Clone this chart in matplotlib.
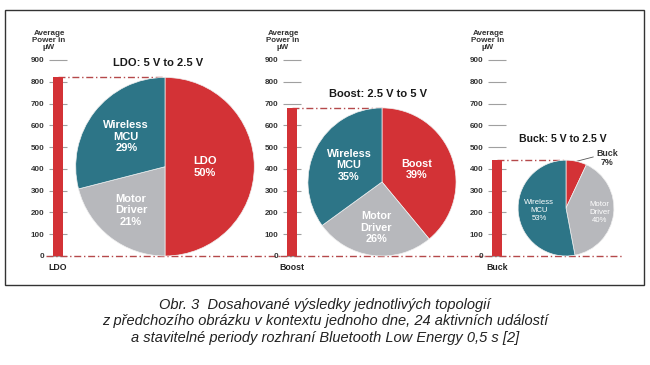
import math
import matplotlib.pyplot as plt
from matplotlib.patches import Rectangle

plt.rcParams['font.family'] = ['Liberation Sans', 'DejaVu Sans']

# Data (average power in uW and shares in %)
topologies = ['LDO', 'Boost', 'Buck']
titles = ['LDO: 5 V to 2.5 V', 'Boost: 2.5 V to 5 V', 'Buck: 5 V to 2.5 V']
totals_uw = [820, 680, 440]
ldo_shares = [50, 21, 29]
boost_shares = [39, 26, 35]
buck_shares = [7, 40, 53]
shares = [ldo_shares, boost_shares, buck_shares]
part_names = ['Motor\nDriver', 'Wireless\nMCU']
y_ticks = list(range(0, 1000, 100))
y_label = 'Average\nPower in\nµW'
caption = ('Obr. 3  Dosahované výsledky jednotlivých topologií\n'
           'z předchozího obrázku v kontextu jednoho dne, 24 aktivních událostí\n'
           'a stavitelné periody rozhraní Bluetooth Low Energy 0,5 s [2]')

# Colours
red = '#d33236'
gray = '#b7b8bc'
teal = '#2d7587'
line_red = '#b5494b'
dash_dot = (0, (5, 2, 1, 2))

# Layout in pixels
W, H = 650, 365
px_per_uw = 196 / 900          # same scale on x and y, so the pies stay round
base_px = 256                  # pixel row of the zero line
# axes left, axes right, bar centre for each panel
panel_px = [(46, 280, 58), (280, 485, 292), (485, 622, 497)]
# distance from bar centre to pie centre
pie_offset_px = [107, 90, 69]
# title placement relative to the pie top / centre
title_gap_px = [14, 14, 21]
title_shift_px = [-7, -4, -3]
title_size = [8, 8, 7.6]
# where each slice label sits, as a fraction of the radius (None = outside)
label_dist = [[0.45, 0.62, 0.55], [0.5, 0.62, 0.5], [None, 0.71, 0.56]]
label_size = [8, 7.8, 5.6]
label_weight = ['bold', 'bold', 'normal']

fig = plt.figure(figsize=(W / 100, H / 100), dpi=100)

# Frame round the chart part
fig.add_artist(Rectangle((5 / W, 1 - 285 / H), 639 / W, 275 / H,
                         transform=fig.transFigure, fill=False,
                         edgecolor='#333333', linewidth=1))

for i in range(3):
    left, right, bar_px = panel_px[i]
    ax = fig.add_axes([left / W, 1 - base_px / H, (right - left) / W, 196 / H])
    ax.patch.set_visible(False)

    total = totals_uw[i]
    r = total / 2
    cx = pie_offset_px[i] / px_per_uw
    bar_w = 10 / px_per_uw

    # short tick dashes behind the bar
    ax.hlines(y_ticks, -0.9 * bar_w, 0.9 * bar_w, color='#a0a0a0',
              linewidth=0.8, zorder=1, clip_on=False)
    # total power bar
    ax.bar(0, total, width=bar_w, color=red, zorder=3)
    # dash-dot guide lines, top of bar to top of pie and along the base
    ax.plot([0, cx], [total, total], color=line_red, linewidth=1,
            linestyle=dash_dot, zorder=2)
    ax.axhline(0, color=line_red, linewidth=1, linestyle=dash_dot,
               zorder=2, clip_on=False)

    # pie with the same height as the bar
    wedges, _ = ax.pie(shares[i], colors=[red, gray, teal], radius=r,
                       center=(cx, r), startangle=90, counterclock=False,
                       frame=True,
                       wedgeprops=dict(linewidth=0.5, edgecolor='#f0f0f0',
                                       zorder=4))

    names = [topologies[i]] + part_names
    for j in range(3):
        d = label_dist[i][j]
        if d is None:
            continue
        mid = math.radians((wedges[j].theta1 + wedges[j].theta2) / 2)
        ax.text(cx + d * r * math.cos(mid), r + d * r * math.sin(mid),
                names[j] + '\n' + str(shares[i][j]) + '%',
                ha='center', va='center', color='white',
                fontsize=label_size[i], fontweight=label_weight[i],
                linespacing=1.2, zorder=5)

    if i == 2:
        # small buck slice gets an outside label with a leader line
        a = math.radians((wedges[0].theta1 + wedges[0].theta2) / 2)
        ax.annotate(topologies[i] + '\n' + str(shares[i][0]) + '%',
                    xy=(cx + r * math.cos(a), r + r * math.sin(a)),
                    xytext=(cx + 41 / px_per_uw, r + 50 / px_per_uw),
                    ha='center', va='center',
                    fontsize=6.4, fontweight='bold', color='#333333',
                    linespacing=1.1, annotation_clip=False,
                    arrowprops=dict(arrowstyle='-', color='#555555',
                                    linewidth=0.6, shrinkA=0, shrinkB=0,
                                    relpos=(0, 0.6)))

    # panel title above the pie
    ax.text(cx + title_shift_px[i] / px_per_uw,
            total + title_gap_px[i] / px_per_uw, titles[i],
            ha='center', va='center', fontsize=title_size[i],
            fontweight='bold', color='#1a1a1a', clip_on=False)
    # axis caption above the ticks
    ax.text(-9 / px_per_uw, 990, y_label, ha='center', va='center',
            fontsize=5.8, fontweight='bold', linespacing=0.95,
            color='#333333', clip_on=False)
    # bar name under the base line
    ax.text(0, -11 / px_per_uw, topologies[i], ha='center', va='center',
            fontsize=6.3, fontweight='bold', color='#222222', clip_on=False)

    ax.set_xlim((left - bar_px) / px_per_uw, (right - bar_px) / px_per_uw)
    ax.set_ylim(0, 900)
    ax.set_aspect('auto')
    ax.set_xticks([])
    ax.set_yticks(y_ticks)
    ax.tick_params(axis='y', length=0, pad=1.2, labelsize=5.8,
                   labelcolor='#333333')
    for lab in ax.get_yticklabels():
        lab.set_fontweight('bold')
    for s in ax.spines.values():
        s.set_visible(False)

# Caption under the frame
fig.text(0.5, 1 - 321.5 / H, caption, ha='center', va='center',
         style='italic', fontsize=10.5, linespacing=1.25, color='#222222')

fig.savefig('out.png', dpi=100)
